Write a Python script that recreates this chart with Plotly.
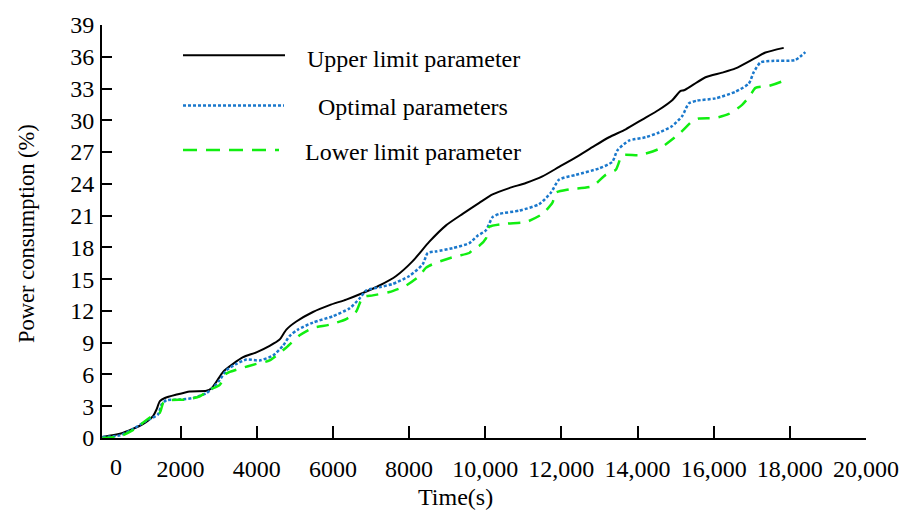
import plotly.graph_objects as go

# ---- data ----
upper_x = [-50, 409, 758, 1020, 1282, 1370, 1457, 1588, 1895, 2243, 2681, 2812, 2943, 3117, 3379, 3641, 3991,
           4340, 4602, 4778, 5040, 5476, 5913, 6350, 6786, 7223, 7661, 8096, 8534, 8972, 9407, 9844,
           10193, 10631, 11068, 11503, 11941, 12379, 12814, 13252, 13690, 14125, 14563, 14911, 15131,
           15218, 15435, 15786, 16222, 16572, 17097, 17359, 17839]
upper_y = [0.1, 0.4, 0.87, 1.33, 2.1, 2.7, 3.48, 3.78, 4.1, 4.4, 4.46, 4.7, 5.32, 6.25, 7.0, 7.63, 8.09,
           8.7, 9.3, 10.24, 11.0, 11.9, 12.55, 13.07, 13.69, 14.4, 15.3, 16.7, 18.54, 20.08, 21.16, 22.2,
           23.0, 23.6, 24.08, 24.7, 25.6, 26.5, 27.46, 28.4, 29.15, 30.07, 31.0, 31.9, 32.78,
           32.84, 33.3, 34.07, 34.5, 34.9, 35.9, 36.4, 36.84]

optimal_x = [-50, 409, 758, 1108, 1413, 1501, 1632, 1981, 2331, 2681, 2855, 3030, 3205, 3467, 3730, 4078,
             4427, 4689, 4865, 5082, 5476, 6000, 6437, 6699, 6874, 7224, 7572, 8010, 8359, 8490, 8710,
             9145, 9582, 9800, 10020, 10193, 10369, 10893, 11417, 11724, 11941, 12379, 12990, 13339,
             13470, 13776, 14213, 14563, 14911, 15173, 15348, 15566, 16048, 16572, 16921, 17052,
             17228, 17532, 18144, 18407]
optimal_y = [0.1, 0.25, 0.87, 1.63, 2.25, 3.17, 3.57, 3.63, 3.78, 4.24, 4.77, 5.48, 6.4, 7.0, 7.41, 7.32,
             7.78, 8.71, 9.63, 10.24, 10.9, 11.5, 12.24, 13.16, 13.93, 14.24, 14.55, 15.3, 16.4, 17.47, 17.62,
             17.93, 18.4, 19.1, 19.62, 20.85, 21.16, 21.47, 22.08, 23.16, 24.4, 24.85, 25.46, 26.08,
             27.16, 28.08, 28.4, 28.85, 29.46, 30.4, 31.6, 31.86, 32.07, 32.7, 33.46, 34.54,
             35.46, 35.61, 35.7, 36.44]

lower_x = [-50, 409, 758, 1195, 1457, 1545, 1719, 2157, 2506, 2768, 3030, 3205, 3554, 3992, 4340, 4778,
           5127, 5476, 5913, 6350, 6612, 6786, 7048, 7486, 7923, 8272, 8447, 8710, 9233, 9582, 9713,
           9844, 10020, 10106, 10543, 11068, 11503, 11766, 11854, 12203, 12814, 13165, 13427, 13601,
           14038, 14563, 15087, 15435, 15610, 16048, 16397, 16746, 16965, 17097, 17446, 17795, 17970]
lower_y = [0.0, 0.16, 0.77, 1.94, 2.4, 3.32, 3.57, 3.63, 3.94, 4.55, 5.02, 6.09, 6.55, 7.0, 7.32, 8.55,
           9.7, 10.4, 10.7, 11.23, 11.94, 13.32, 13.47, 13.78, 14.4, 15.3, 16.09, 16.55, 17.16, 17.47, 17.93,
           18.16, 18.86, 19.93, 20.24, 20.39, 21.16, 22.23, 23.16, 23.47, 23.77, 24.85, 25.31, 26.7,
           26.7, 27.3, 28.7, 29.9, 30.17, 30.23, 30.6, 31.46, 32.38, 33.06, 33.24, 33.67, 33.98]

series_names = ["Upper limit parameter", "Optimal parameters", "Lower limit parameter"]
x_ticks = [2000, 4000, 6000, 8000, 10000, 12000, 14000, 16000, 18000, 20000]
x_ticktext = ["2000", "4000", "6000", "8000", "10,000", "12,000", "14,000", "16,000", "18,000", "20,000"]
y_ticks = list(range(0, 40, 3))

FONT = "Liberation Serif, Times New Roman, serif"
BLACK = "#000000"
BLUE = "#1a78cc"
GREEN = "#11ee11"
GREEN_DASH = "12px,9px"
BLUE_DOT = "3px,2px"
FS = 24

fig = go.Figure()
fig.add_trace(go.Scatter(x=upper_x, y=upper_y, mode="lines", name=series_names[0],
                         line=dict(color=BLACK, width=2, shape="spline", smoothing=0.6)))
fig.add_trace(go.Scatter(x=optimal_x, y=optimal_y, mode="lines", name=series_names[1],
                         line=dict(color=BLUE, width=2.5, dash=BLUE_DOT, shape="spline", smoothing=0.6)))
fig.add_trace(go.Scatter(x=lower_x, y=lower_y, mode="lines", name=series_names[2],
                         line=dict(color=GREEN, width=2.5, dash=GREEN_DASH, shape="spline", smoothing=0.6)))

W, H = 915, 517
L, R, T, B = 102, 49, 15, 79
pw, ph = W - L - R, H - T - B

def px2paper(px, py):
    return (px - L) / pw, 1 - (py - T) / ph

# manual legend (line samples + centred labels)
legend_rows = [(46, 50, BLACK, None, 2, 285), (97.5, 99, BLUE, "dot", 2.5, 284), (143, 145, GREEN, "dash", 2.5, 279)]
for i, (ly, ty, col, dsh, w, xend) in enumerate(legend_rows):
    x0, y0 = px2paper(183, ly)
    x1, _ = px2paper(xend, ly)
    dash_val = None if dsh is None else (BLUE_DOT if dsh == "dot" else "14px,9px")
    fig.add_shape(type="line", xref="paper", yref="paper", x0=x0, x1=x1, y0=y0, y1=y0,
                  line=dict(color=col, width=w, dash=dash_val))
    tx, tyy = px2paper(413, ty)
    fig.add_annotation(x=tx, y=tyy, xref="paper", yref="paper", text=series_names[i], showarrow=False,
                       xanchor="center", yanchor="middle", font=dict(family=FONT, size=FS, color="black"))

# "0" x label (offset in reference) and axis titles
fig.add_annotation(x=300, y=0, xref="x", yref="paper", text="0", showarrow=False, xanchor="center",
                   yanchor="middle", yshift=-29, font=dict(family=FONT, size=FS, color="black"))
tx, _ = px2paper(455, 0)
fig.add_annotation(x=tx, y=0, xref="paper", yref="paper", text="Time(s)", showarrow=False, xanchor="center",
                   yanchor="middle", yshift=-(497 - (H - B)), font=dict(family=FONT, size=FS, color="black"))
_, ty = px2paper(0, 229)
fig.add_annotation(x=0, y=ty, xref="paper", yref="paper", text="Power consumption (%)", showarrow=False,
                   textangle=-90, xanchor="center", yanchor="middle", xshift=-(L - 27),
                   font=dict(family=FONT, size=22.5, color="black"))

fig.update_layout(
    width=W, height=H, autosize=False,
    margin=dict(l=L, r=R, t=T, b=B, pad=0),
    paper_bgcolor="white", plot_bgcolor="white",
    showlegend=False,
    font=dict(family=FONT, size=FS, color="black"),
    xaxis=dict(range=[-63, 20000], tickvals=x_ticks, ticktext=x_ticktext, ticks="inside", ticklen=12,
               tickwidth=2, tickcolor="black", showline=True, linecolor="black", linewidth=2,
               showgrid=False, zeroline=False, ticklabelstandoff=8,
               tickfont=dict(family=FONT, size=FS, color="black")),
    yaxis=dict(range=[0, 39], tickvals=y_ticks, ticks="inside", ticklen=10, tickwidth=2, tickcolor="black",
               showline=True, linecolor="black", linewidth=2, showgrid=False, zeroline=False,
               ticklabelstandoff=1, tickfont=dict(family=FONT, size=FS, color="black")),
)

fig.write_html("out.html")
